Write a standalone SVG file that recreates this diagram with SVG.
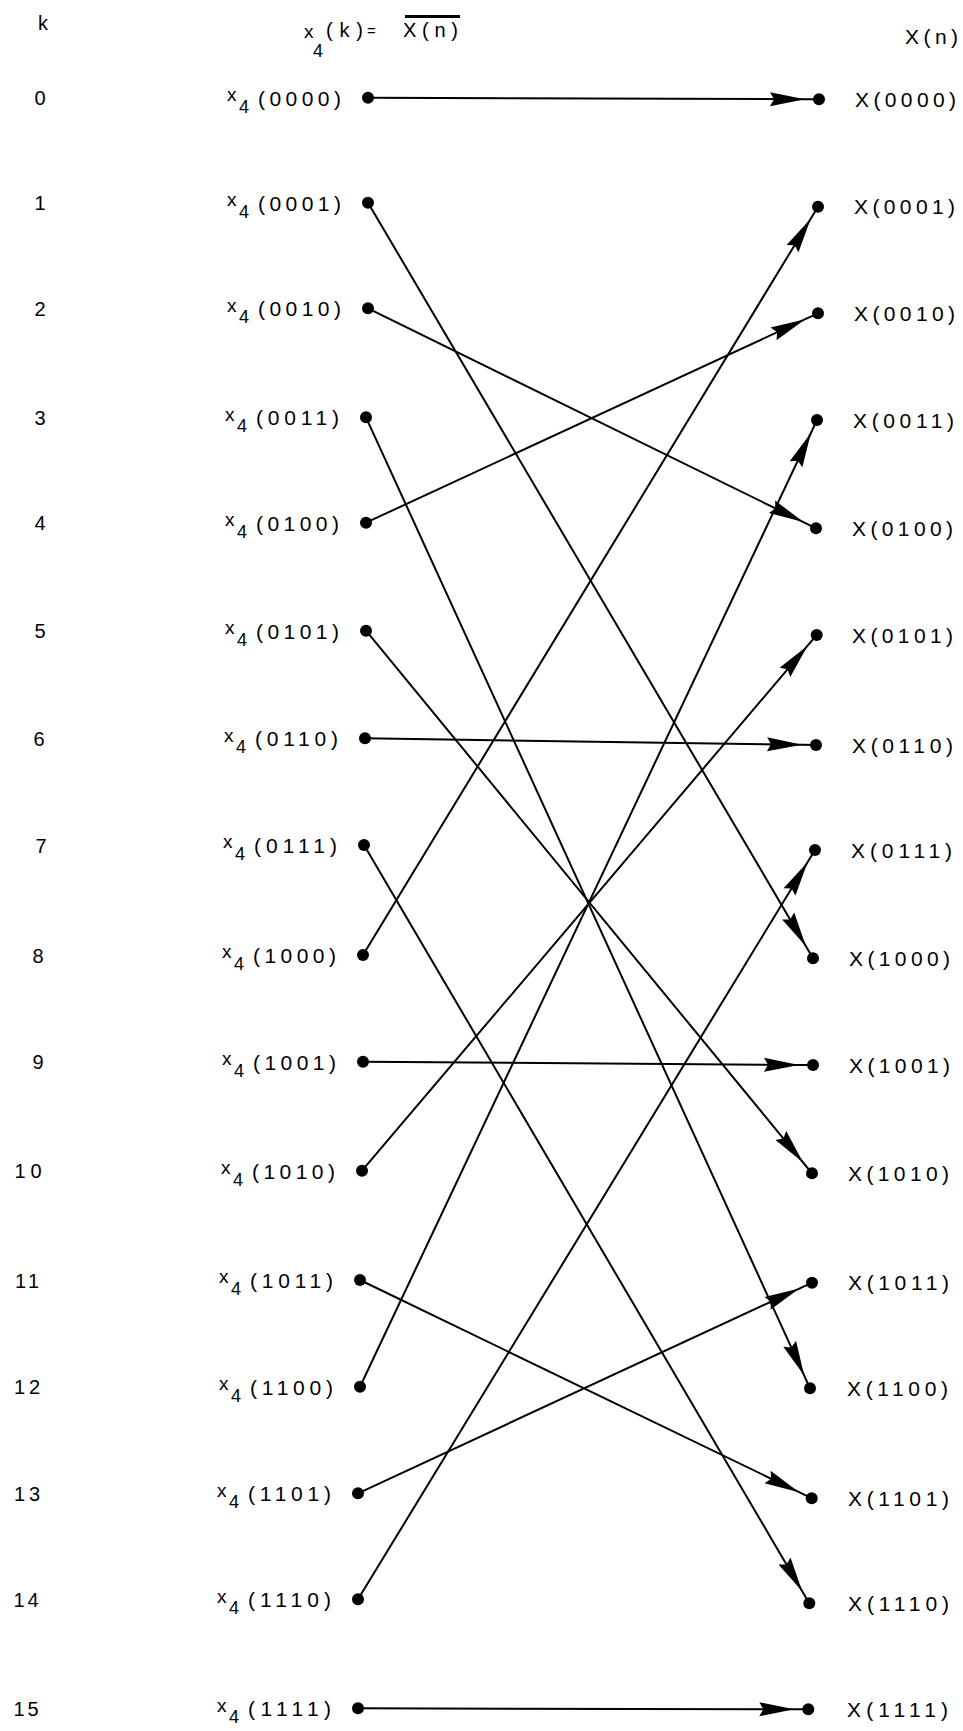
<svg xmlns="http://www.w3.org/2000/svg" width="963" height="1731" viewBox="0 0 963 1731">
<style>
text{font-family:"Liberation Sans",Arial,sans-serif;fill:#000}
.k{font-size:20px;text-anchor:middle}
.xs{font-size:19px}
.sub{font-size:18px}
.arg{font-size:21px}
.rl{font-size:21px}
.hd{font-size:20px}
.dot{fill:#000}
.cn{fill:none;stroke:#000;stroke-width:2;marker-mid:url(#ah)}
</style>
<defs>
<marker id="ah" markerUnits="userSpaceOnUse" viewBox="-40 -9 42 18" markerWidth="42" markerHeight="18" refX="0" refY="0" orient="auto" overflow="visible">
<path d="M0,0 L-35,-7 L-31,0 L-35,7 Z" fill="#000"/>
</marker>
</defs>
<rect width="963" height="1731" fill="#fff"/>
<g id="headers">
<text class="hd" x="38" y="30">k</text>
<text class="xs" x="304" y="38">x</text>
<text class="sub" x="313" y="57">4</text>
<text class="hd" x="326" y="37" textLength="37" lengthAdjust="spacing">(k)</text>
<text x="367" y="36" font-size="15">=</text>
<text class="hd" x="403" y="37" textLength="55" lengthAdjust="spacing">X(n)</text>
<line x1="405" y1="16.5" x2="460" y2="16.5" stroke="#000" stroke-width="3"/>
<text class="rl" x="905" y="44" textLength="53" lengthAdjust="spacing">X(n)</text>
</g>
<g id="connectors">
<path class="cn" d="M368,97.7 L805,99.25 L819,99.3"/>
<path class="cn" d="M368,202.7 L805.9,946.2 L813,958.3"/>
<path class="cn" d="M368,308.3 L803.4,522.1 L816,528.3"/>
<path class="cn" d="M366,417.3 L804.2,1375.6 L810,1388.3"/>
<path class="cn" d="M366,522.7 L805.3,319.2 L818,313.3"/>
<path class="cn" d="M366,630.7 L803.1,1162.5 L812,1173.3"/>
<path class="cn" d="M365,738.3 L802,744.8 L816,745"/>
<path class="cn" d="M364,845 L802.2,1591.2 L809.3,1603.3"/>
<path class="cn" d="M363,955 L810.7,218.7 L818,206.7"/>
<path class="cn" d="M363,1061.7 L799,1064.9 L813,1065"/>
<path class="cn" d="M362,1170.7 L807.6,645.7 L816.7,635"/>
<path class="cn" d="M360,1280 L799.1,1492.2 L811.7,1498.3"/>
<path class="cn" d="M360,1386.7 L811,432.7 L817,420"/>
<path class="cn" d="M358,1493.3 L799.3,1288.6 L812,1282.7"/>
<path class="cn" d="M358,1599.3 L807.7,862 L815,850"/>
<path class="cn" d="M358,1708.3 L794.3,1709.3 L808.3,1709.3"/>
</g>
<g id="in0"><text class="k" x="40" y="105.2">0</text><circle class="dot" cx="368" cy="97.7" r="6"/><text class="xs" x="227" y="101">x</text><text class="sub" x="239" y="112.7">4</text><text class="arg" x="258" y="105.7" textLength="83" lengthAdjust="spacing">(0000)</text></g>
<g id="in1"><text class="k" x="40" y="210.2">1</text><circle class="dot" cx="368" cy="202.7" r="6"/><text class="xs" x="227" y="206">x</text><text class="sub" x="239" y="217.7">4</text><text class="arg" x="258" y="210.7" textLength="83" lengthAdjust="spacing">(0001)</text></g>
<g id="in2"><text class="k" x="40" y="315.8">2</text><circle class="dot" cx="368" cy="308.3" r="6"/><text class="xs" x="227" y="311.6">x</text><text class="sub" x="239" y="323.3">4</text><text class="arg" x="258" y="316.3" textLength="83" lengthAdjust="spacing">(0010)</text></g>
<g id="in3"><text class="k" x="40" y="424.8">3</text><circle class="dot" cx="366" cy="417.3" r="6"/><text class="xs" x="225" y="420.6">x</text><text class="sub" x="237" y="432.3">4</text><text class="arg" x="256" y="425.3" textLength="83" lengthAdjust="spacing">(0011)</text></g>
<g id="in4"><text class="k" x="40" y="530.2">4</text><circle class="dot" cx="366" cy="522.7" r="6"/><text class="xs" x="225" y="526">x</text><text class="sub" x="237" y="537.7">4</text><text class="arg" x="256" y="530.7" textLength="83" lengthAdjust="spacing">(0100)</text></g>
<g id="in5"><text class="k" x="40" y="638.2">5</text><circle class="dot" cx="366" cy="630.7" r="6"/><text class="xs" x="225" y="634">x</text><text class="sub" x="237" y="645.7">4</text><text class="arg" x="256" y="638.7" textLength="83" lengthAdjust="spacing">(0101)</text></g>
<g id="in6"><text class="k" x="39" y="745.8">6</text><circle class="dot" cx="365" cy="738.3" r="6"/><text class="xs" x="224" y="741.6">x</text><text class="sub" x="236" y="753.3">4</text><text class="arg" x="255" y="746.3" textLength="83" lengthAdjust="spacing">(0110)</text></g>
<g id="in7"><text class="k" x="41" y="852.5">7</text><circle class="dot" cx="364" cy="845" r="6"/><text class="xs" x="223" y="848.3">x</text><text class="sub" x="235" y="860">4</text><text class="arg" x="254" y="853" textLength="83" lengthAdjust="spacing">(0111)</text></g>
<g id="in8"><text class="k" x="38" y="962.5">8</text><circle class="dot" cx="363" cy="955" r="6"/><text class="xs" x="222" y="958.3">x</text><text class="sub" x="234" y="970">4</text><text class="arg" x="253" y="963" textLength="83" lengthAdjust="spacing">(1000)</text></g>
<g id="in9"><text class="k" x="38" y="1069.2">9</text><circle class="dot" cx="363" cy="1061.7" r="6"/><text class="xs" x="222" y="1065">x</text><text class="sub" x="234" y="1076.7">4</text><text class="arg" x="253" y="1069.7" textLength="83" lengthAdjust="spacing">(1001)</text></g>
<g id="in10"><text class="k" x="28" y="1178.2" textLength="27" lengthAdjust="spacing">10</text><circle class="dot" cx="362" cy="1170.7" r="6"/><text class="xs" x="221" y="1174">x</text><text class="sub" x="233" y="1185.7">4</text><text class="arg" x="252" y="1178.7" textLength="83" lengthAdjust="spacing">(1010)</text></g>
<g id="in11"><text class="k" x="27" y="1287.5" textLength="24" lengthAdjust="spacing">11</text><circle class="dot" cx="360" cy="1280" r="6"/><text class="xs" x="219" y="1283.3">x</text><text class="sub" x="231" y="1295">4</text><text class="arg" x="250" y="1288" textLength="83" lengthAdjust="spacing">(1011)</text></g>
<g id="in12"><text class="k" x="27" y="1394.2" textLength="26" lengthAdjust="spacing">12</text><circle class="dot" cx="360" cy="1386.7" r="6"/><text class="xs" x="219" y="1390">x</text><text class="sub" x="231" y="1401.7">4</text><text class="arg" x="250" y="1394.7" textLength="83" lengthAdjust="spacing">(1100)</text></g>
<g id="in13"><text class="k" x="27" y="1500.8" textLength="26" lengthAdjust="spacing">13</text><circle class="dot" cx="358" cy="1493.3" r="6"/><text class="xs" x="217" y="1496.6">x</text><text class="sub" x="229" y="1508.3">4</text><text class="arg" x="248" y="1501.3" textLength="83" lengthAdjust="spacing">(1101)</text></g>
<g id="in14"><text class="k" x="26" y="1606.8" textLength="25" lengthAdjust="spacing">14</text><circle class="dot" cx="358" cy="1599.3" r="6"/><text class="xs" x="217" y="1602.6">x</text><text class="sub" x="229" y="1614.3">4</text><text class="arg" x="248" y="1607.3" textLength="83" lengthAdjust="spacing">(1110)</text></g>
<g id="in15"><text class="k" x="26" y="1715.8" textLength="25" lengthAdjust="spacing">15</text><circle class="dot" cx="358" cy="1708.3" r="6"/><text class="xs" x="217" y="1711.6">x</text><text class="sub" x="229" y="1723.3">4</text><text class="arg" x="248" y="1716.3" textLength="83" lengthAdjust="spacing">(1111)</text></g>
<g id="out0"><circle class="dot" cx="819" cy="99.3" r="6"/><text class="rl" x="855" y="106.8" textLength="101" lengthAdjust="spacing">X(0000)</text></g>
<g id="out1"><circle class="dot" cx="818" cy="206.7" r="6"/><text class="rl" x="854" y="214.2" textLength="101" lengthAdjust="spacing">X(0001)</text></g>
<g id="out2"><circle class="dot" cx="818" cy="313.3" r="6"/><text class="rl" x="854" y="320.8" textLength="101" lengthAdjust="spacing">X(0010)</text></g>
<g id="out3"><circle class="dot" cx="817" cy="420" r="6"/><text class="rl" x="853" y="427.5" textLength="101" lengthAdjust="spacing">X(0011)</text></g>
<g id="out4"><circle class="dot" cx="816" cy="528.3" r="6"/><text class="rl" x="852" y="535.8" textLength="101" lengthAdjust="spacing">X(0100)</text></g>
<g id="out5"><circle class="dot" cx="816.7" cy="635" r="6"/><text class="rl" x="852" y="642.5" textLength="101" lengthAdjust="spacing">X(0101)</text></g>
<g id="out6"><circle class="dot" cx="816" cy="745" r="6"/><text class="rl" x="852" y="752.5" textLength="101" lengthAdjust="spacing">X(0110)</text></g>
<g id="out7"><circle class="dot" cx="815" cy="850" r="6"/><text class="rl" x="851" y="857.5" textLength="101" lengthAdjust="spacing">X(0111)</text></g>
<g id="out8"><circle class="dot" cx="813" cy="958.3" r="6"/><text class="rl" x="849" y="965.8" textLength="101" lengthAdjust="spacing">X(1000)</text></g>
<g id="out9"><circle class="dot" cx="813" cy="1065" r="6"/><text class="rl" x="849" y="1072.5" textLength="101" lengthAdjust="spacing">X(1001)</text></g>
<g id="out10"><circle class="dot" cx="812" cy="1173.3" r="6"/><text class="rl" x="848" y="1180.8" textLength="101" lengthAdjust="spacing">X(1010)</text></g>
<g id="out11"><circle class="dot" cx="812" cy="1282.7" r="6"/><text class="rl" x="848" y="1290.2" textLength="101" lengthAdjust="spacing">X(1011)</text></g>
<g id="out12"><circle class="dot" cx="810" cy="1388.3" r="6"/><text class="rl" x="847" y="1395.8" textLength="101" lengthAdjust="spacing">X(1100)</text></g>
<g id="out13"><circle class="dot" cx="811.7" cy="1498.3" r="6"/><text class="rl" x="848" y="1505.8" textLength="101" lengthAdjust="spacing">X(1101)</text></g>
<g id="out14"><circle class="dot" cx="809.3" cy="1603.3" r="6"/><text class="rl" x="848" y="1610.8" textLength="101" lengthAdjust="spacing">X(1110)</text></g>
<g id="out15"><circle class="dot" cx="808.3" cy="1709.3" r="6"/><text class="rl" x="847" y="1716.8" textLength="101" lengthAdjust="spacing">X(1111)</text></g>
</svg>
